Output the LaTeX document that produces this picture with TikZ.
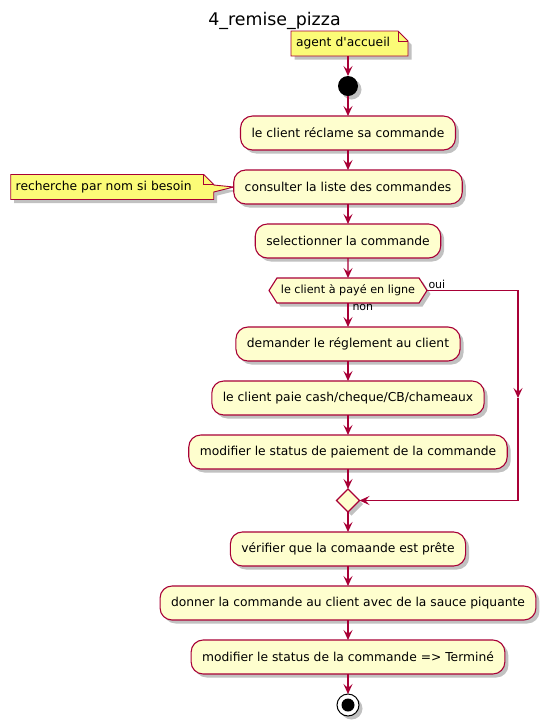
\documentclass[tikz,border=0pt]{standalone}
\usepackage{fontspec}
\setmainfont{DejaVu Sans}
\usepackage{xcolor}
\definecolor{colorBorder}{HTML}{A80036}
\definecolor{colorActivity}{HTML}{FEFECE}
\definecolor{colorNote}{HTML}{FBFB77}
\usetikzlibrary{arrows.meta, positioning, shapes.geometric, shapes.symbols, shadows, backgrounds}
\tikzset{
  shadowed/.style={drop shadow={shadow xshift=3.5pt, shadow yshift=-3.5pt, opacity=0.35, fill=black!70}},
  activity/.style={rectangle, rounded corners=12pt, draw=colorBorder, fill=colorActivity, line width=1.1pt, minimum height=34pt, inner xsep=11pt, font=\fontsize{12.3pt}{14pt}\selectfont, shadowed},
  decision/.style={signal, signal to=west and east, signal pointer angle=115, draw=colorBorder, fill=colorActivity, line width=1.1pt, minimum width=158pt, minimum height=25pt, inner xsep=2pt, inner ysep=0pt, font=\fontsize{11.2pt}{13pt}\selectfont, shadowed},
  merge/.style={diamond, aspect=1, draw=colorBorder, fill=colorActivity, line width=1.1pt, minimum width=23pt, minimum height=23pt, inner sep=0pt, shadowed},
  notetext/.style={rectangle, align=left, minimum height=25pt, inner xsep=5pt, inner ysep=0pt, font=\fontsize{12.3pt}{14pt}\selectfont},
  notebox/.style={draw=colorBorder, fill=colorNote, line width=0.9pt, shadowed},
  notefold/.style={draw=colorBorder, line width=0.9pt},
  flow/.style={->, draw=colorBorder, line width=1.1pt},
  lbl/.style={inner sep=1.5pt, font=\fontsize{11pt}{13pt}\selectfont}
}

\begin{document}
\begin{tikzpicture}[x=1pt, y=-1pt, >={Stealth[length=10pt, width=9pt, inset=4pt]}, node distance=20pt, every node/.append style={outer sep=0pt}]
\useasboundingbox (0,0) rectangle (549,724);
\node[font=\fontsize{17.4pt}{20pt}\selectfont] (title) at (274.5,21) {4\_remise\_pizza};
\node[circle, fill=black, minimum size=20pt, inner sep=0pt, shadowed] (s0) at (348,86) {};
\node[notetext, text width=107pt, above=20pt of s0, xshift=1.5pt] (n1) {agent d\textquotesingle accueil};
\node[activity, below=of s0] (a1) {le client réclame sa commande};
\node[activity, below=of a1] (a2) {consulter la liste des commandes};
\node[notetext, text width=193pt, left=of a2] (n2) {recherche par nom si besoin};
\node[activity, below=of a2] (a3) {selectionner la commande};
\node[decision, below=of a3] (d1) {le client à payé en ligne};
\node[activity, below=24pt of d1] (a4) {demander le réglement au client};
\node[activity, below=of a4] (a5) {le client paie cash/cheque/CB/chameaux};
\node[activity, below=of a5] (a6) {modifier le status de paiement de la commande};
\node[merge, below=of a6] (m1) {};
\node[activity, below=of m1] (a7) {vérifier que la comaande est prête};
\node[activity, below=of a7] (a8) {donner la commande au client avec de la sauce piquante};
\node[activity, below=of a8] (a9) {modifier le status de la commande => Terminé};
\node[circle, draw=black, fill=white, line width=1pt, minimum size=22pt, inner sep=0pt, shadowed, below=of a9] (e0) {};
\node[circle, fill=black, minimum size=13pt, inner sep=0pt] (e1) at (e0) {};
\coordinate (rx) at (518,0);
\begin{scope}[on background layer]
\draw[notebox] (n1.south west) -- (n1.north west) -- ([xshift=-10pt]n1.north east) -- ([yshift=-10pt]n1.north east) -- (n1.south east) -- cycle;
\draw[notefold] ([xshift=-10pt]n1.north east) |- ([yshift=-10pt]n1.north east);
\draw[notebox] (n2.south west) -- (n2.north west) -- ([xshift=-10pt]n2.north east) -- ([yshift=-10pt]n2.north east) -- ([yshift=2pt]n2.east) -- (a2.west) -- ([yshift=-5pt]n2.east) -- (n2.south east) -- cycle;
\draw[notefold] ([xshift=-10pt]n2.north east) |- ([yshift=-10pt]n2.north east);
\end{scope}
\draw[flow] (s0 |- n1.south) -- (s0);
\draw[flow] (s0) -- (a1);
\draw[flow] (a1) -- (a2);
\draw[flow] (a2) -- (a3);
\draw[flow] (a3) -- (d1);
\draw[flow] (d1.south) node[lbl, anchor=north west, xshift=3pt] (l2) {non} -- (a4);
\draw[flow] (d1.east) node[lbl, anchor=south west] (l1) {oui} -| (rx |- a5.center);
\draw[flow] (rx |- a5.center) |- (m1.east);
\draw[flow] (a4) -- (a5);
\draw[flow] (a5) -- (a6);
\draw[flow] (a6) -- (m1);
\draw[flow] (m1) -- (a7);
\draw[flow] (a7) -- (a8);
\draw[flow] (a8) -- (a9);
\draw[flow] (a9) -- (e0);
\end{tikzpicture}
\end{document}
